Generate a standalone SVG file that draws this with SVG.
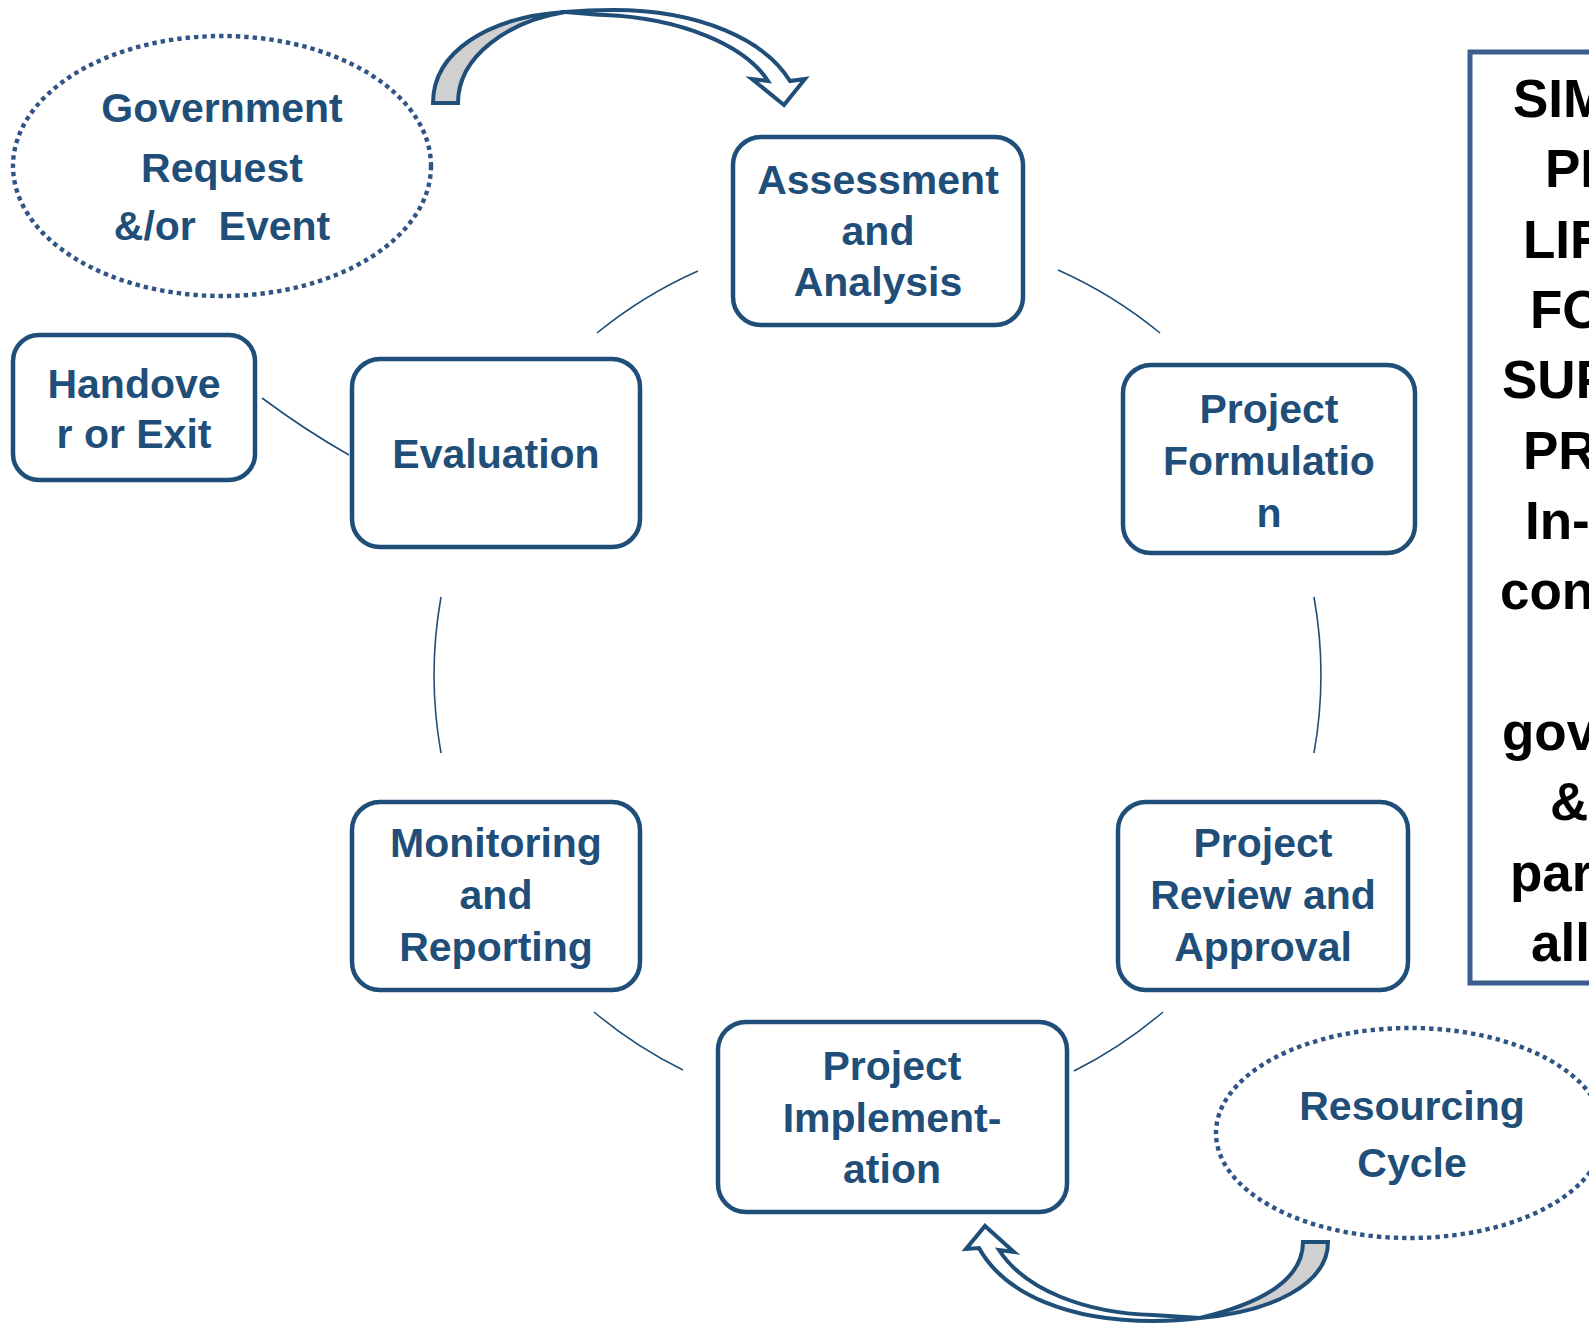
<svg xmlns="http://www.w3.org/2000/svg" width="1589" height="1324" viewBox="0 0 1589 1324">
<style>
.box{fill:#fff;stroke:#1F4E79;stroke-width:4.5}
.t{font-family:"Liberation Sans",Arial,sans-serif;font-weight:bold;font-size:41px;fill:#1F4E79;text-anchor:middle}
.dot{fill:none;stroke:#2F5486;stroke-width:4.4;stroke-dasharray:4.4 4}
.con{fill:none;stroke:#1F4E79;stroke-width:1.6}
.arr{stroke:#1F4E79;stroke-width:4;stroke-linejoin:miter}
.side{font-family:"Liberation Sans",Arial,sans-serif;font-weight:bold;font-size:53px;fill:#000}
</style>
<rect width="1589" height="1324" fill="#fff"/>
<g id="connectors">
<path class="con" d="M597,333 A443,443 0 0 1 698,271"/>
<path class="con" d="M1058,270 A443,443 0 0 1 1160,333"/>
<path class="con" d="M1314,597 A443,443 0 0 1 1314,753"/>
<path class="con" d="M1163,1012 A443,443 0 0 1 1074,1071"/>
<path class="con" d="M683,1070 A443,443 0 0 1 594,1012"/>
<path class="con" d="M441,753 A443,443 0 0 1 441,597"/>
<path class="con" d="M262,398 Q305,430 349,455"/>
</g>
<g id="arrow-top">
<path class="arr" fill="#D0D0D0" d="M433,103 C433,52 488,17 565,12 C510,21 458,55 458,103 Z"/>
<path class="arr" fill="#fff" d="M565,12 C582,10.5 598,10 613,10 C700,10 765,40 790,81 L805,79 L784,105 L752,79 L768,81 C745,45 680,18 605,15 C590,14.5 577,13 565,12 Z"/>
</g>
<g id="arrow-bottom">
<path class="arr" fill="#D0D0D0" d="M1328,1242 C1328,1285 1270,1312 1200,1318 C1255,1305 1303,1282 1303,1242 Z"/>
<path class="arr" fill="#fff" d="M1200,1318 C1185,1320 1170,1321 1153,1321 C1070,1321 1005,1295 979,1248 L966,1249 L985,1226 L1014,1252 L999,1250 C1025,1290 1085,1313 1153,1315 C1170,1316 1185,1317 1200,1318 Z"/>
</g>
<g id="government">
<ellipse class="dot" cx="222" cy="166" rx="209" ry="130"/>
<text class="t" x="222" y="122">Government</text>
<text class="t" x="222" y="182">Request</text>
<text class="t" x="222" y="240" xml:space="preserve">&amp;/or  Event</text>
</g>
<g id="resourcing">
<ellipse class="dot" cx="1410" cy="1133" rx="194" ry="105"/>
<text class="t" x="1412" y="1120">Resourcing</text>
<text class="t" x="1412" y="1177">Cycle</text>
</g>
<g id="assessment">
<rect class="box" x="733" y="137" width="290" height="188" rx="28"/>
<text class="t" x="878" y="194">Assessment</text>
<text class="t" x="878" y="245">and</text>
<text class="t" x="878" y="296">Analysis</text>
</g>
<g id="formulation">
<rect class="box" x="1123" y="365" width="292" height="188" rx="28"/>
<text class="t" x="1269" y="423">Project</text>
<text class="t" x="1269" y="475">Formulatio</text>
<text class="t" x="1269" y="527">n</text>
</g>
<g id="review">
<rect class="box" x="1118" y="802" width="290" height="188" rx="28"/>
<text class="t" x="1263" y="857">Project</text>
<text class="t" x="1263" y="909">Review and</text>
<text class="t" x="1263" y="961">Approval</text>
</g>
<g id="implementation">
<rect class="box" x="718" y="1022" width="349" height="190" rx="28"/>
<text class="t" x="892" y="1080">Project</text>
<text class="t" x="892" y="1132">Implement-</text>
<text class="t" x="892" y="1183">ation</text>
</g>
<g id="monitoring">
<rect class="box" x="352" y="802" width="288" height="188" rx="28"/>
<text class="t" x="496" y="857">Monitoring</text>
<text class="t" x="496" y="909">and</text>
<text class="t" x="496" y="961">Reporting</text>
</g>
<g id="evaluation">
<rect class="box" x="352" y="359" width="288" height="188" rx="28"/>
<text class="t" x="496" y="468">Evaluation</text>
</g>
<g id="handover">
<rect class="box" x="13" y="335" width="242" height="145" rx="26"/>
<text class="t" x="134" y="398">Handove</text>
<text class="t" x="134" y="448">r or Exit</text>
</g>
<g id="side-box">
<rect x="1470" y="52" width="200" height="931" fill="#fff" stroke="#3A5F8E" stroke-width="5"/>
<text class="side" x="1513" y="117">SIM</text>
<text class="side" x="1545" y="187">PR</text>
<text class="side" x="1523" y="258">LIF</text>
<text class="side" x="1530" y="328">FO</text>
<text class="side" x="1502" y="398">SUP</text>
<text class="side" x="1523" y="469">PR</text>
<text class="side" x="1525" y="539">In-</text>
<text class="side" x="1500" y="609">cons</text>
<text class="side" x="1502" y="750">gov</text>
<text class="side" x="1550" y="820">&amp;</text>
<text class="side" x="1510" y="891">par</text>
<text class="side" x="1531" y="961">all</text>
</g>
</svg>
